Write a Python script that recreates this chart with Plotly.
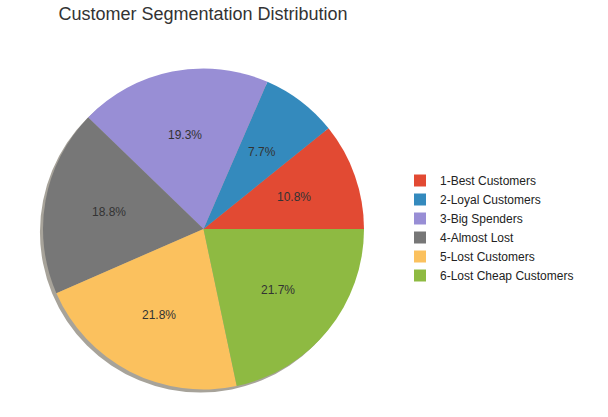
import math
import plotly.graph_objects as go

segments = ["1-Best Customers", "2-Loyal Customers", "3-Big Spenders",
            "4-Almost Lost", "5-Lost Customers", "6-Lost Cheap Customers"]
shares = [10.8, 7.7, 19.3, 18.8, 21.8, 21.7]
colors = ["#E24A33", "#348ABD", "#988ED5", "#777777", "#FBC15E", "#8EBA42"]

W, H = 608, 417
cx, cy, r = 203.5, 229, 160.5
sh = 3
label_r = 0.6

def dom(cx, cy, r):
    return dict(x=[(cx - r) / W, (cx + r) / W], y=[1 - (cy + r) / H, 1 - (cy - r) / H])

total = sum(shares)
# first wedge starts at 3 o'clock and runs counterclockwise
start_rot = 90 - 360 * shares[0] / total

fig = go.Figure()
# shadow
fig.add_trace(go.Pie(values=[1], labels=["shadow"], domain=dom(cx - sh, cy + sh, r),
                     marker=dict(colors=["rgba(60,50,30,0.45)"], line=dict(width=0)),
                     textinfo="none", hoverinfo="skip", showlegend=False, sort=False))
fig.add_trace(go.Pie(values=shares, labels=segments, domain=dom(cx, cy, r),
                     sort=False, direction="counterclockwise", rotation=start_rot,
                     marker=dict(colors=colors, line=dict(width=0)),
                     textinfo="none"))

# percentage labels at 0.6 radius along each wedge's bisector
cum = 0.0
for v in shares:
    mid = math.radians(360 * (cum + v / 2) / total)
    cum += v
    px = cx + label_r * r * math.cos(mid)
    py = cy - label_r * r * math.sin(mid)
    fig.add_annotation(x=px / W, y=1 - py / H, xref="paper", yref="paper",
                       text=f"{100 * v / total:.1f}%", showarrow=False,
                       xanchor="center", yanchor="middle",
                       font=dict(size=12, color="#333333"))

fig.update_layout(
    width=W, height=H, margin=dict(l=0, r=0, t=0, b=0),
    paper_bgcolor="white", plot_bgcolor="white",
    font=dict(family="Liberation Sans, Arial, sans-serif", color="#333333"),
    title=dict(text="Customer Segmentation Distribution", x=203 / W, xanchor="center",
               y=1 - 14 / H, yanchor="middle", font=dict(size=18, color="#333333")),
    legend=dict(x=400 / W, y=1 - 228 / H, xanchor="left", yanchor="middle",
                font=dict(size=12, color="#222222"), tracegroupgap=0, traceorder="normal"),
)
fig.write_html("out.html", config={"displayModeBar": False},
               post_script="document.body.style.margin='0';document.body.style.overflow='hidden';")
